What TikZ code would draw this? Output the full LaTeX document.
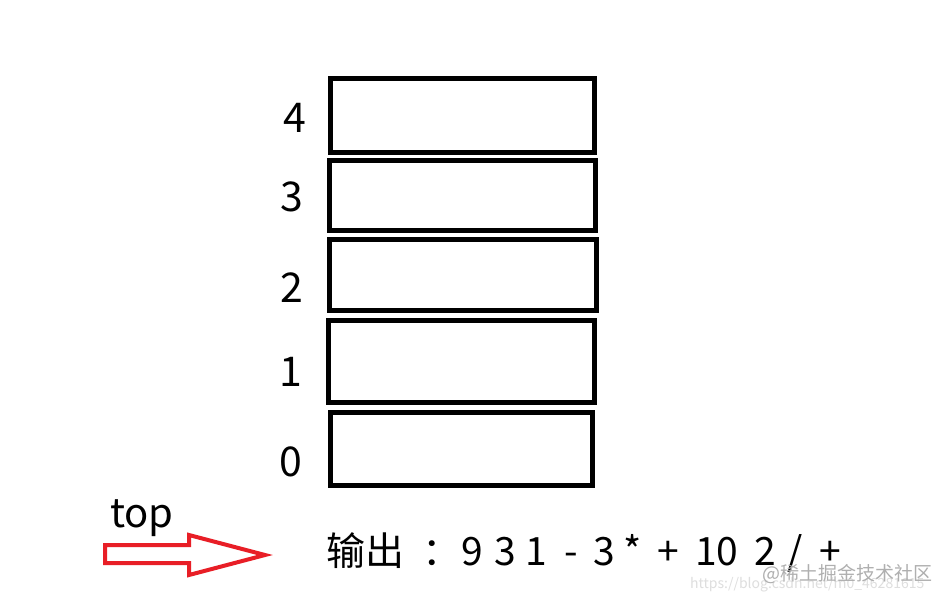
\documentclass[tikz,border=0pt]{standalone}
\usepackage{fontspec}
\setmainfont{Noto Sans CJK SC}
\definecolor{arrred}{RGB}{232,30,38}
\definecolor{wmgray}{RGB}{175,175,175}
\definecolor{wmlight}{RGB}{222,222,222}
\newcommand\tk[2]{\makebox[0pt][l]{\hspace{#1pt}\makebox[0pt][c]{#2}}}
\begin{document}
\begin{tikzpicture}[x=1pt,y=-1pt,
  cell/.style={draw=black, line width=5pt, rectangle, inner sep=0pt},
  idx/.style={font=\fontsize{41}{41}\selectfont, inner sep=0pt},
  outtxt/.style={font=\fontsize{39}{39}\selectfont, inner sep=0pt, anchor=base west},
  toplbl/.style={font=\fontsize{40}{40}\selectfont, inner sep=0pt, anchor=base west},
  redarrow/.style={draw=arrred, line width=4pt, line join=miter},
  wm/.style={inner sep=0pt, anchor=base west}]
\useasboundingbox (0,0) rectangle (941,601);
\fill[white] (0,0) rectangle (941,601);
% stack cells
\node[cell, minimum width=264pt, minimum height=74pt] (b4) at (462.5,115.5) {};
\node[cell, minimum width=266pt, minimum height=70pt] (b3) at (462.5,195.5) {};
\node[cell, minimum width=267pt, minimum height=71pt] (b2) at (463,275) {};
\node[cell, minimum width=266pt, minimum height=82pt] (b1) at (461.5,361.5) {};
\node[cell, minimum width=262pt, minimum height=73pt] (b0) at (461.5,449) {};
% indices
\node[idx] (l4) at (295,118) {4};
\node[idx] (l3) at (292,197) {3};
\node[idx] (l2) at (292,288) {2};
\node[idx] (l1) at (291,372) {1};
\node[idx] (l0) at (291,462) {0};
% top label and arrow
\node[toplbl] (toplabel) at (110,527) {top};
\coordinate (a1) at (105,545);
\coordinate (a2) at (189,545);
\coordinate (a3) at (189,535);
\coordinate (a4) at (265,555);
\coordinate (a5) at (189,575);
\coordinate (a6) at (189,563);
\coordinate (a7) at (105,563);
\draw[redarrow] (a1) -- (a2) -- (a3) -- (a4) -- (a5) -- (a6) -- (a7) -- cycle;
% output
\node[outtxt] (out) at (326,565) {输出\tk{38}{：}\tk{68.5}{9}\tk{101}{3}\tk{132.5}{1}\tk{167}{-}\tk{200}{3}\tk{228.5}{*}\tk{264.5}{+}\tk{312.5}{10}\tk{361}{2}\tk{391}{/}\tk{426}{+}\hspace{438pt}};
% watermark
\node[wm, text=wmlight, font=\fontsize{14}{14}\selectfont] (url) at (690,588) {https://blog.csdn.net/m0\_46281615};
\node[wm, text=wmgray, font=\fontsize{19}{19}\selectfont] (wmark) at (762,580) {@稀土掘金技术社区};
\end{tikzpicture}
\end{document}
